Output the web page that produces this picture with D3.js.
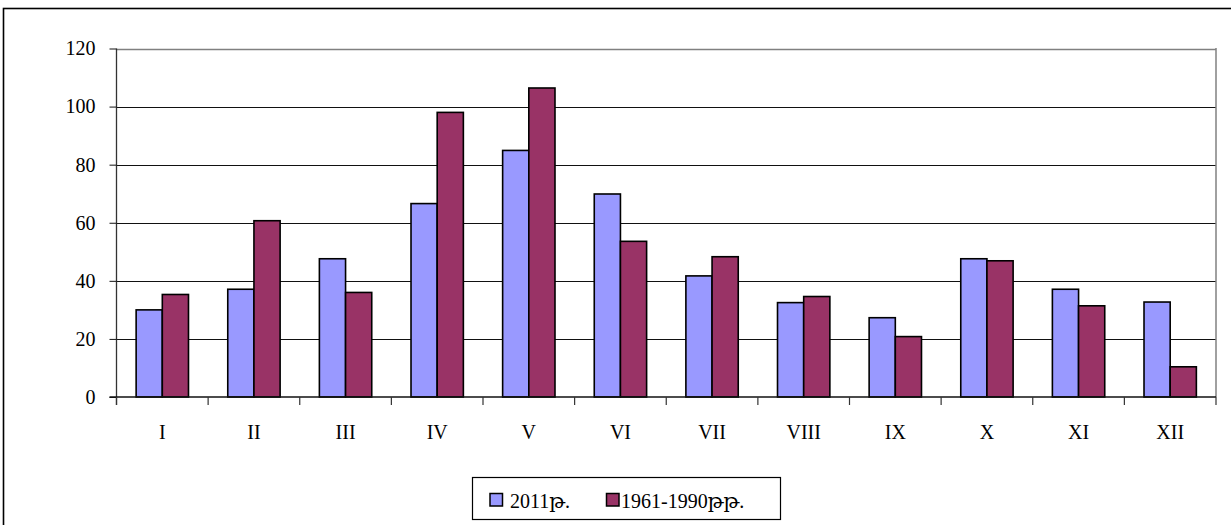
<!DOCTYPE html>
<html>
<head>
<meta charset="utf-8">
<script src="https://cdn.jsdelivr.net/npm/d3@7"></script>
<style>
  html, body { margin: 0; padding: 0; background: #fff; }
  svg { display: block; }
  text { font-family: "Liberation Serif", "DejaVu Serif", serif; fill: #000; }
</style>
</head>
<body>
<svg id="chart" width="1231" height="525"></svg>
<script>
const months = ["I", "II", "III", "IV", "V", "VI", "VII", "VIII", "IX", "X", "XI", "XII"];
const seriesNames = ["2011թ.", "1961-1990թթ."];
const values2011 = [30, 37.1, 47.6, 66.6, 84.9, 69.9, 41.7, 32.5, 27.3, 47.6, 37.1, 32.7];
const valuesNorm = [35.3, 60.7, 36.0, 98.0, 106.4, 53.6, 48.3, 34.6, 20.8, 46.9, 31.4, 10.4];
const yTicks = [0, 20, 40, 60, 80, 100, 120];
const colors = ["#9999FF", "#993366"];

const svg = d3.select("#chart");

// outer frame
svg.append("rect")
  .attr("x", 3.5).attr("y", 8.5)
  .attr("width", 1300).attr("height", 600)
  .attr("fill", "none").attr("stroke", "#000").attr("stroke-width", 1.6);

const plot = { left: 116.5, right: 1216, top: 48.5, bottom: 397 };

const x = d3.scaleBand().domain(months).range([plot.left, plot.right]).paddingInner(0).paddingOuter(0);
const xs = d3.scaleBand().domain(seriesNames).range([0, x.bandwidth()]).paddingInner(0).paddingOuter(0.75);
const y = d3.scaleLinear().domain([0, 120]).range([plot.bottom, plot.top]);

// gridlines
svg.append("g").selectAll("line").data(yTicks.filter(d => d > 0)).join("line")
  .attr("x1", plot.left).attr("x2", plot.right)
  .attr("y1", d => Math.round(y(d)) + 0.5).attr("y2", d => Math.round(y(d)) + 0.5)
  .attr("stroke", d => d === 120 ? "#808080" : "#111").attr("stroke-width", d => d === 120 ? 1.5 : 1);

// right border of plot area
svg.append("line")
  .attr("x1", plot.right).attr("x2", plot.right)
  .attr("y1", plot.top - 0.5).attr("y2", plot.bottom)
  .attr("stroke", "#808080").attr("stroke-width", 1.5);

// bars
const data = months.map((m, i) => ({ month: m, vals: [values2011[i], valuesNorm[i]] }));
const groups = svg.append("g").selectAll("g").data(data).join("g")
  .attr("transform", d => `translate(${x(d.month)},0)`);
groups.selectAll("rect").data(d => d.vals.map((v, j) => ({ name: seriesNames[j], v, j }))).join("rect")
  .attr("x", d => xs(d.name))
  .attr("width", xs.bandwidth())
  .attr("y", d => y(d.v))
  .attr("height", d => y(0) - y(d.v))
  .attr("fill", d => colors[d.j])
  .attr("stroke", "#000").attr("stroke-width", 1.6);

// y axis
const yAxis = d3.axisLeft(y).tickValues(yTicks).tickSize(7).tickPadding(14).tickFormat(d3.format("d"));
const gy = svg.append("g").attr("transform", `translate(${plot.left},0)`).call(yAxis);
gy.select(".domain").attr("stroke", "#333").attr("stroke-width", 1.3)
  .attr("d", `M-0,${plot.top}V${plot.bottom + 8}`);
gy.selectAll(".tick line").attr("stroke", "#111");
gy.selectAll("text").style("font-size", "20px").attr("font-family", "Liberation Serif, DejaVu Serif, serif").attr("fill", "#000");

// x axis
const gx = svg.append("g").attr("transform", `translate(0,${plot.bottom})`);
gx.append("line").attr("x1", plot.left - 7).attr("x2", plot.right).attr("y1", 0).attr("y2", 0)
  .attr("stroke", "#111").attr("stroke-width", 1.3);
const boundaries = months.map(m => x(m)).concat([plot.right]);
gx.selectAll("line.tk").data(boundaries).join("line").attr("class", "tk")
  .attr("x1", d => d).attr("x2", d => d).attr("y1", 0).attr("y2", 8)
  .attr("stroke", "#333").attr("stroke-width", 1.2);
gx.selectAll("text").data(months).join("text")
  .attr("x", d => x(d) + x.bandwidth() / 2)
  .attr("y", 42)
  .attr("text-anchor", "middle")
  .style("font-size", "20px")
  .text(d => d);

// legend
const lg = svg.append("g");
lg.append("rect").attr("x", 472.5).attr("y", 477.5).attr("width", 308).attr("height", 42)
  .attr("fill", "#fff").attr("stroke", "#000").attr("stroke-width", 1.2);
const legendItems = [
  { name: seriesNames[0], color: colors[0], sx: 490, tx: 510 },
  { name: seriesNames[1], color: colors[1], sx: 606.5, tx: 621 }
];
legendItems.forEach(it => {
  lg.append("rect").attr("x", it.sx).attr("y", 493.5).attr("width", 12.5).attr("height", 12.5)
    .attr("fill", it.color).attr("stroke", "#000").attr("stroke-width", 1.5);
  lg.append("text").attr("x", it.tx).attr("y", 507.5).style("font-size", "20px").text(it.name);
});
</script>
</body>
</html>
